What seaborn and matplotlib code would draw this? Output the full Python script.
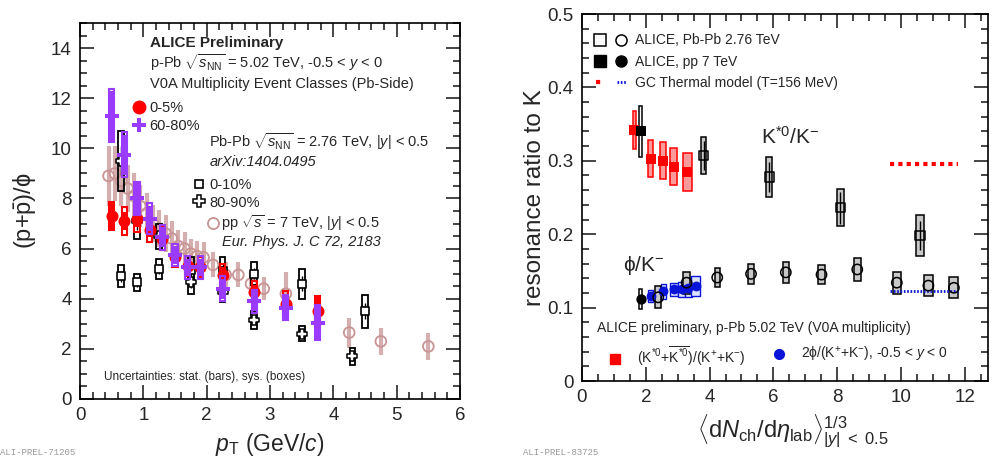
import numpy as np
import pandas as pd
import seaborn as sns
import matplotlib.pyplot as plt
from matplotlib.lines import Line2D
from matplotlib.legend_handler import HandlerTuple
from matplotlib.ticker import MultipleLocator

# ---------------- left panel: (p+pbar)/phi vs pT ----------------
ppb_pt = [0.5, 0.7, 0.9, 1.1, 1.3, 1.5, 1.7, 1.9, 2.25, 2.75, 3.25, 3.75]
ppb_0_5 = [7.3, 7.1, 7.2, 6.75, 6.4, 5.65, 5.3, 5.25, 4.95, 4.25, 3.8, 3.5]
ppb_0_5_stat = [0.5, 0.35, 0.35, 0.3, 0.3, 0.25, 0.25, 0.25, 0.3, 0.3, 0.35, 0.6]
ppb_0_5_sys = [0.55, 0.55, 0.55, 0.5, 0.45, 0.4, 0.4, 0.4, 0.45, 0.45, 0.5, 0.6]
ppb_60_80 = [11.3, 9.75, 8.0, 7.2, 6.45, 5.75, 5.25, 5.25, 4.4, 3.9, 3.65, 3.05]
ppb_60_80_stat = [1.0, 0.8, 0.6, 0.5, 0.4, 0.35, 0.35, 0.35, 0.4, 0.4, 0.45, 0.65]
ppb_60_80_sys = [1.05, 0.9, 0.65, 0.6, 0.5, 0.45, 0.45, 0.45, 0.5, 0.45, 0.5, 0.7]

pbpb_pt = [0.65, 0.9, 1.25, 1.75, 2.25, 2.75, 3.5, 4.5]
pbpb_0_10 = [4.9, 4.65, 5.2, 5.15, 5.1, 5.0, 4.6, 3.5]
pbpb_0_10_sys = [0.45, 0.35, 0.4, 0.5, 0.55, 0.45, 0.6, 0.65]
pbpb_80_90_pt = [0.65, 0.9, 1.25, 1.75, 2.25, 2.75, 3.5, 4.3]
pbpb_80_90 = [9.5, 7.1, 6.5, 4.65, 4.25, 3.15, 2.6, 1.7]
pbpb_80_90_sys = [1.2, 0.7, 0.5, 0.45, 0.4, 0.35, 0.3, 0.35]

pp_pt = [0.45, 0.55, 0.65, 0.75, 0.85, 0.95, 1.05, 1.15, 1.25, 1.35, 1.45, 1.55,
         1.65, 1.75, 1.85, 1.95, 2.1, 2.3, 2.5, 2.7, 2.9, 3.25, 4.25, 4.75, 5.5]
pp_ratio = [8.9, 9.0, 8.7, 8.4, 8.1, 7.7, 7.4, 7.0, 6.8, 6.6, 6.4, 6.1,
            6.0, 5.8, 5.7, 5.65, 5.35, 4.95, 4.95, 4.6, 4.4, 4.2, 2.65, 2.3, 2.1]
pp_err = [1.2, 1.1, 1.0, 0.95, 0.9, 0.85, 0.8, 0.75, 0.75, 0.75, 0.7, 0.65,
          0.65, 0.6, 0.6, 0.6, 0.5, 0.5, 0.5, 0.45, 0.45, 0.87, 0.6, 0.53, 0.53]

left_xticks = [0, 1, 2, 3, 4, 5, 6]
left_yticks = [0, 2, 4, 6, 8, 10, 12, 14]

# ---------------- right panel: resonance / K ----------------
pbpb_kst_x = [3.82, 5.87, 8.10, 10.60]
pbpb_kst = [0.307, 0.278, 0.236, 0.198]
pbpb_kst_stat = [0.02, 0.02, 0.022, 0.02]
pbpb_kst_sys = [0.025, 0.027, 0.025, 0.028]
pbpb_kst_w = [0.15, 0.18, 0.2, 0.26]

pbpb_phi_x = [2.39, 3.28, 4.24, 5.30, 6.39, 7.51, 8.63, 9.87, 10.86, 11.66]
pbpb_phi = [0.114, 0.134, 0.141, 0.146, 0.148, 0.145, 0.152, 0.134, 0.130, 0.127]
pbpb_phi_sys = [0.015, 0.015, 0.013, 0.0135, 0.014, 0.0135, 0.0155, 0.015, 0.014, 0.0145]
pbpb_phi_w = [0.2, 0.2, 0.16, 0.18, 0.18, 0.2, 0.22, 0.26, 0.26, 0.28]

pp_x = [1.84]
pp_kst = [0.340]
pp_kst_sys = [0.035]
pp_phi = [0.112]
pp_phi_sys = [0.014]

ppb_mult_kst = [1.64, 2.15, 2.55, 2.88, 3.30]
ppb_kst = [0.342, 0.303, 0.300, 0.292, 0.285]
ppb_kst_sys = [0.026, 0.025, 0.025, 0.025, 0.026]
ppb_kst_w = [0.08, 0.15, 0.19, 0.22, 0.28]

ppb_mult_phi = [2.15, 2.55, 2.88, 3.12, 3.33, 3.56]
ppb_phi = [0.116, 0.122, 0.125, 0.125, 0.127, 0.130]
ppb_phi_sys = [0.008, 0.0105, 0.009, 0.01, 0.0125, 0.0135]
ppb_phi_w = [0.16, 0.16, 0.23, 0.21, 0.23, 0.29]

thermal_x = [9.65, 11.8]
thermal_kst = 0.295
thermal_phi = 0.122

right_xticks = [0, 2, 4, 6, 8, 10, 12]
right_yticks = [0, 0.1, 0.2, 0.3, 0.4, 0.5]
right_yticklabels = ['0', '0.1', '0.2', '0.3', '0.4', '0.5']

RED = '#ff0000'
PURPLE = '#9b3bff'
ROSY = '#c89494'
BLUE = '#0a14d8'
GREY = '#c8c8c8'
PHI = '\u03d5'

sns.set_theme(style='ticks')
plt.rcParams['font.family'] = ['Liberation Sans', 'DejaVu Sans']
plt.rcParams['mathtext.fontset'] = 'custom'
plt.rcParams['mathtext.rm'] = 'Liberation Sans'
plt.rcParams['mathtext.it'] = 'Liberation Sans:italic'
plt.rcParams['mathtext.bf'] = 'Liberation Sans:bold'
plt.rcParams['axes.linewidth'] = 1.2

fig = plt.figure(figsize=(9.94, 4.61), dpi=100)
axL = fig.add_axes([0.0805, 0.1345, 0.3823, 0.8156])
axR = fig.add_axes([0.5855, 0.1735, 0.4085, 0.7961])


def boxes(ax, x, y, sys, w, edge, face='none', lw=1.2, z=2, alpha=1.0):
    y = np.asarray(y)
    sys = np.asarray(sys)
    ax.bar(x, 2 * sys, bottom=y - sys, width=w, facecolor=face,
           edgecolor=edge, linewidth=lw, zorder=z, alpha=alpha)


# ---- left panel drawing
ax = axL
ax.errorbar(pp_pt, pp_ratio, yerr=pp_err, fmt='none', ecolor=ROSY,
            elinewidth=3, alpha=0.75, zorder=1)
sns.scatterplot(x=pp_pt, y=pp_ratio, ax=ax, marker='o', s=60,
                facecolor='none', edgecolor=ROSY, linewidth=1.3, zorder=1.5)

boxes(ax, pbpb_pt, pbpb_0_10, pbpb_0_10_sys, 0.09, 'black', lw=1.3, z=3)
boxes(ax, pbpb_80_90_pt, pbpb_80_90, pbpb_80_90_sys, 0.09, 'black', lw=1.3, z=3)
ax.errorbar(pbpb_pt, pbpb_0_10, yerr=np.array(pbpb_0_10_sys) * 0.5, fmt='none',
            ecolor='black', elinewidth=1, zorder=3)
ax.errorbar(pbpb_80_90_pt, pbpb_80_90, yerr=np.array(pbpb_80_90_sys) * 0.5,
            fmt='none', ecolor='black', elinewidth=1, zorder=3)
sns.scatterplot(x=pbpb_pt, y=pbpb_0_10, ax=ax, marker='s', s=28,
                facecolor='white', edgecolor='black', linewidth=1.2, zorder=4)
sns.scatterplot(x=pbpb_80_90_pt, y=pbpb_80_90, ax=ax, marker='P', s=48,
                facecolor='white', edgecolor='black', linewidth=1.1, zorder=4)

boxes(ax, ppb_pt, ppb_0_5, ppb_0_5_sys, 0.08, RED, lw=1.5, z=5)
ax.errorbar(ppb_pt, ppb_0_5, yerr=ppb_0_5_stat, fmt='none', ecolor=RED,
            elinewidth=3, zorder=5)
sns.scatterplot(x=ppb_pt, y=ppb_0_5, ax=ax, marker='o', s=75, color=RED,
                edgecolor=RED, linewidth=0, zorder=6)

boxes(ax, ppb_pt, ppb_60_80, ppb_60_80_sys, 0.08, PURPLE, lw=1.5, z=7)
ax.errorbar(ppb_pt, ppb_60_80, yerr=ppb_60_80_stat, fmt='none', ecolor=PURPLE,
            elinewidth=3, zorder=7)
sns.scatterplot(x=ppb_pt, y=ppb_60_80, ax=ax, marker='P', s=95, color=PURPLE,
                edgecolor=PURPLE, linewidth=0, zorder=8)

ax.set_xlim(0, 6)
ax.set_ylim(0, 15)
ax.set_xticks(left_xticks)
ax.set_xticklabels([str(t) for t in left_xticks])
ax.set_yticks(left_yticks)
ax.set_yticklabels([str(t) for t in left_yticks])
ax.xaxis.set_minor_locator(MultipleLocator(0.2))
ax.yaxis.set_minor_locator(MultipleLocator(0.5))
ax.set_xlabel(r'$p_{\mathrm{T}}$ (GeV/$c$)', fontsize=16.5)
ax.set_ylabel(r'(p+$\bar{\mathrm{p}}$)/' + PHI, fontsize=17)

T = ax.transAxes
fs = 10.5
ax.text(0.184, 0.947, 'ALICE Preliminary', transform=T, fontsize=11,
        fontweight='bold', va='center')
ax.text(0.184, 0.893, r'p-Pb $\sqrt{s_{\mathrm{NN}}}$ = 5.02 TeV, -0.5 < $y$ < 0',
        transform=T, fontsize=fs, va='center')
ax.text(0.184, 0.838, 'V0A Multiplicity Event Classes (Pb-Side)', transform=T,
        fontsize=fs, va='center')
ax.text(0.340, 0.684, r'Pb-Pb $\sqrt{s_{\mathrm{NN}}}$ = 2.76 TeV, |$y$| < 0.5',
        transform=T, fontsize=fs, va='center')
ax.text(0.340, 0.629, 'arXiv:1404.0495', transform=T, fontsize=fs,
        style='italic', va='center')
ax.text(0.373, 0.417, 'Eur. Phys. J. C 72, 2183', transform=T, fontsize=fs,
        style='italic', va='center')
ax.text(0.064, 0.058, 'Uncertainties: stat. (bars), sys. (boxes)', transform=T,
        fontsize=8.5, va='center')

kw = dict(frameon=False, borderpad=0, borderaxespad=0, fontsize=fs,
          handletextpad=0.35, labelspacing=0.25, loc='upper left',
          bbox_transform=T)
legA = ax.legend(handles=[Line2D([], [], ls='none', marker='o', ms=9, color=RED),
                          Line2D([], [], ls='none', marker='P', ms=10, color=PURPLE, mew=0)],
                 labels=['0-5%', '60-80%'], handlelength=0.7,
                 bbox_to_anchor=(0.143, 0.792), **kw)
ax.add_artist(legA)
legB = ax.legend(handles=[Line2D([], [], ls='none', marker='s', ms=6, mfc='white', mec='black', mew=1.2),
                          Line2D([], [], ls='none', marker='P', ms=8, mfc='white', mec='black', mew=1.1)],
                 labels=['0-10%', '80-90%'], handlelength=0.7,
                 bbox_to_anchor=(0.300, 0.588), **kw)
ax.add_artist(legB)
legC = ax.legend(handles=[Line2D([], [], ls='none', marker='o', ms=8, mfc='none', mec=ROSY, mew=1.3)],
                 labels=[r'pp $\sqrt{s}$ = 7 TeV, |$y$| < 0.5'], handlelength=0.7,
                 handletextpad=0.2, bbox_to_anchor=(0.337, 0.495),
                 **{k: v for k, v in kw.items() if k != 'handletextpad'})

# ---- right panel drawing
ax = axR
boxes(ax, ppb_mult_kst, ppb_kst, ppb_kst_sys, ppb_kst_w, RED, face='#ff9a9a', lw=1.1, z=2)
sns.scatterplot(x=ppb_mult_kst, y=ppb_kst, ax=ax, marker='s', s=55, color=RED,
                linewidth=0, zorder=3)
boxes(ax, ppb_mult_phi, ppb_phi, ppb_phi_sys, ppb_phi_w, BLUE, face='#dde3ff', lw=1.0, z=2)
sns.scatterplot(x=ppb_mult_phi, y=ppb_phi, ax=ax, marker='o', s=50, color=BLUE,
                linewidth=0, zorder=3)

boxes(ax, pp_x, pp_kst, pp_kst_sys, 0.1, 'black', face='white', lw=1.1, z=2)
boxes(ax, pp_x, pp_phi, pp_phi_sys, 0.1, 'black', face='white', lw=1.1, z=2)
sns.scatterplot(x=pp_x, y=pp_kst, ax=ax, marker='s', s=60, color='black',
                linewidth=0, zorder=4)
sns.scatterplot(x=pp_x, y=pp_phi, ax=ax, marker='o', s=55, color='black',
                linewidth=0, zorder=4)

boxes(ax, pbpb_kst_x, pbpb_kst, pbpb_kst_sys, pbpb_kst_w, 'black', face=GREY, lw=1.1, z=2)
ax.errorbar(pbpb_kst_x, pbpb_kst, yerr=pbpb_kst_stat, fmt='none', ecolor='black',
            elinewidth=1, zorder=3)
sns.scatterplot(x=pbpb_kst_x, y=pbpb_kst, ax=ax, marker='s', s=45,
                facecolor='none', edgecolor='black', linewidth=1.1, zorder=4)
boxes(ax, pbpb_phi_x, pbpb_phi, pbpb_phi_sys, pbpb_phi_w, 'black', face=GREY, lw=1.1, z=2)
sns.scatterplot(x=pbpb_phi_x, y=pbpb_phi, ax=ax, marker='o', s=55,
                facecolor='none', edgecolor='black', linewidth=1.1, zorder=4)

ax.hlines(thermal_kst, thermal_x[0], thermal_x[1], colors=RED, lw=3,
          linestyles=(0, (1, 1)), zorder=2)
ax.hlines(thermal_phi, thermal_x[0], thermal_x[1], colors=BLUE, lw=2,
          linestyles=(0, (0.6, 0.6)), zorder=2)

ax.set_xlim(0, 12.73)
ax.set_ylim(0, 0.5)
ax.set_xticks(right_xticks)
ax.set_xticklabels([str(t) for t in right_xticks])
ax.set_yticks(right_yticks)
ax.set_yticklabels(right_yticklabels)
ax.xaxis.set_minor_locator(MultipleLocator(0.5))
ax.yaxis.set_minor_locator(MultipleLocator(0.02))
ax.set_xlabel(r'$\langle\mathrm{d}N_{\mathrm{ch}}/\mathrm{d}\eta_{\mathrm{lab}}\rangle^{1/3}_{|y|\ <\ 0.5}$',
              fontsize=17)
ax.set_ylabel('resonance ratio to K', fontsize=17.5)

T = ax.transAxes
fs = 10
ax.text(0.44, 0.665, r'K$^{*0}$/K$^{-}$', transform=T, fontsize=15, va='center')
ax.text(0.10, 0.316, PHI + r'/K$^{-}$', transform=T, fontsize=15, va='center')
ax.text(0.036, 0.144, 'ALICE preliminary, p-Pb 5.02 TeV (V0A multiplicity)',
        transform=T, fontsize=fs, va='center')

kw = dict(frameon=False, borderpad=0, borderaxespad=0, fontsize=fs,
          loc='upper left', bbox_transform=T)
h1 = (Line2D([], [], ls='none', marker='s', ms=8, mfc='none', mec='black', mew=1.1),
      Line2D([], [], ls='none', marker='o', ms=8, mfc='none', mec='black', mew=1.1))
h2 = (Line2D([], [], ls='none', marker='s', ms=8, color='black'),
      Line2D([], [], ls='none', marker='o', ms=8, color='black'))
h3 = (Line2D([], [], color=RED, lw=3, ls=(0, (1, 1))),
      Line2D([], [], color=BLUE, lw=2, ls=(0, (0.6, 0.6))))
legR = ax.legend(handles=[h1, h2, h3],
                 labels=['ALICE, Pb-Pb 2.76 TeV', 'ALICE, pp 7 TeV',
                         'GC Thermal model (T=156 MeV)'],
                 handler_map={tuple: HandlerTuple(ndivide=None, pad=0.96)},
                 handlelength=2.16, handletextpad=0.66, labelspacing=0.52,
                 bbox_to_anchor=(0.0336, 0.947), **kw)
ax.add_artist(legR)
legK = ax.legend(handles=[Line2D([], [], ls='none', marker='s', ms=7, color=RED)],
                 labels=[r'(K$^{*0}$+$\overline{\mathrm{K}^{*0}}$)/(K$^{+}$+K$^{-}$)'],
                 handlelength=1.0, handletextpad=1.06,
                 bbox_to_anchor=(0.064, 0.097), **kw)
ax.add_artist(legK)
ax.legend(handles=[Line2D([], [], ls='none', marker='o', ms=7, color=BLUE)],
          labels=['2' + PHI + r'/(K$^{+}$+K$^{-}$), -0.5 < $y$ < 0'],
          handlelength=1.0, handletextpad=1.06,
          bbox_to_anchor=(0.469, 0.097), **kw)

for a in (axL, axR):
    a.tick_params(which='both', direction='in', top=True, right=True,
                  labelsize=13.5, width=1.2, pad=6)
    a.tick_params(which='major', length=10)
    a.tick_params(which='minor', length=5)
    for s in a.spines.values():
        s.set_visible(True)
        s.set_color('black')

axL.yaxis.set_label_coords(-0.11, 0.5)
axL.xaxis.set_label_coords(0.5, -0.085)
axR.yaxis.set_label_coords(-0.088, 0.5)
axR.xaxis.set_label_coords(0.52, -0.085)

fig.text(0.0, 0.012, 'ALI-PREL-71205', fontsize=6.5, family='Liberation Mono',
         color='#999999')
fig.text(0.526, 0.012, 'ALI-PREL-83725', fontsize=6.5, family='Liberation Mono',
         color='#999999')

fig.savefig('out.png', dpi=100)
